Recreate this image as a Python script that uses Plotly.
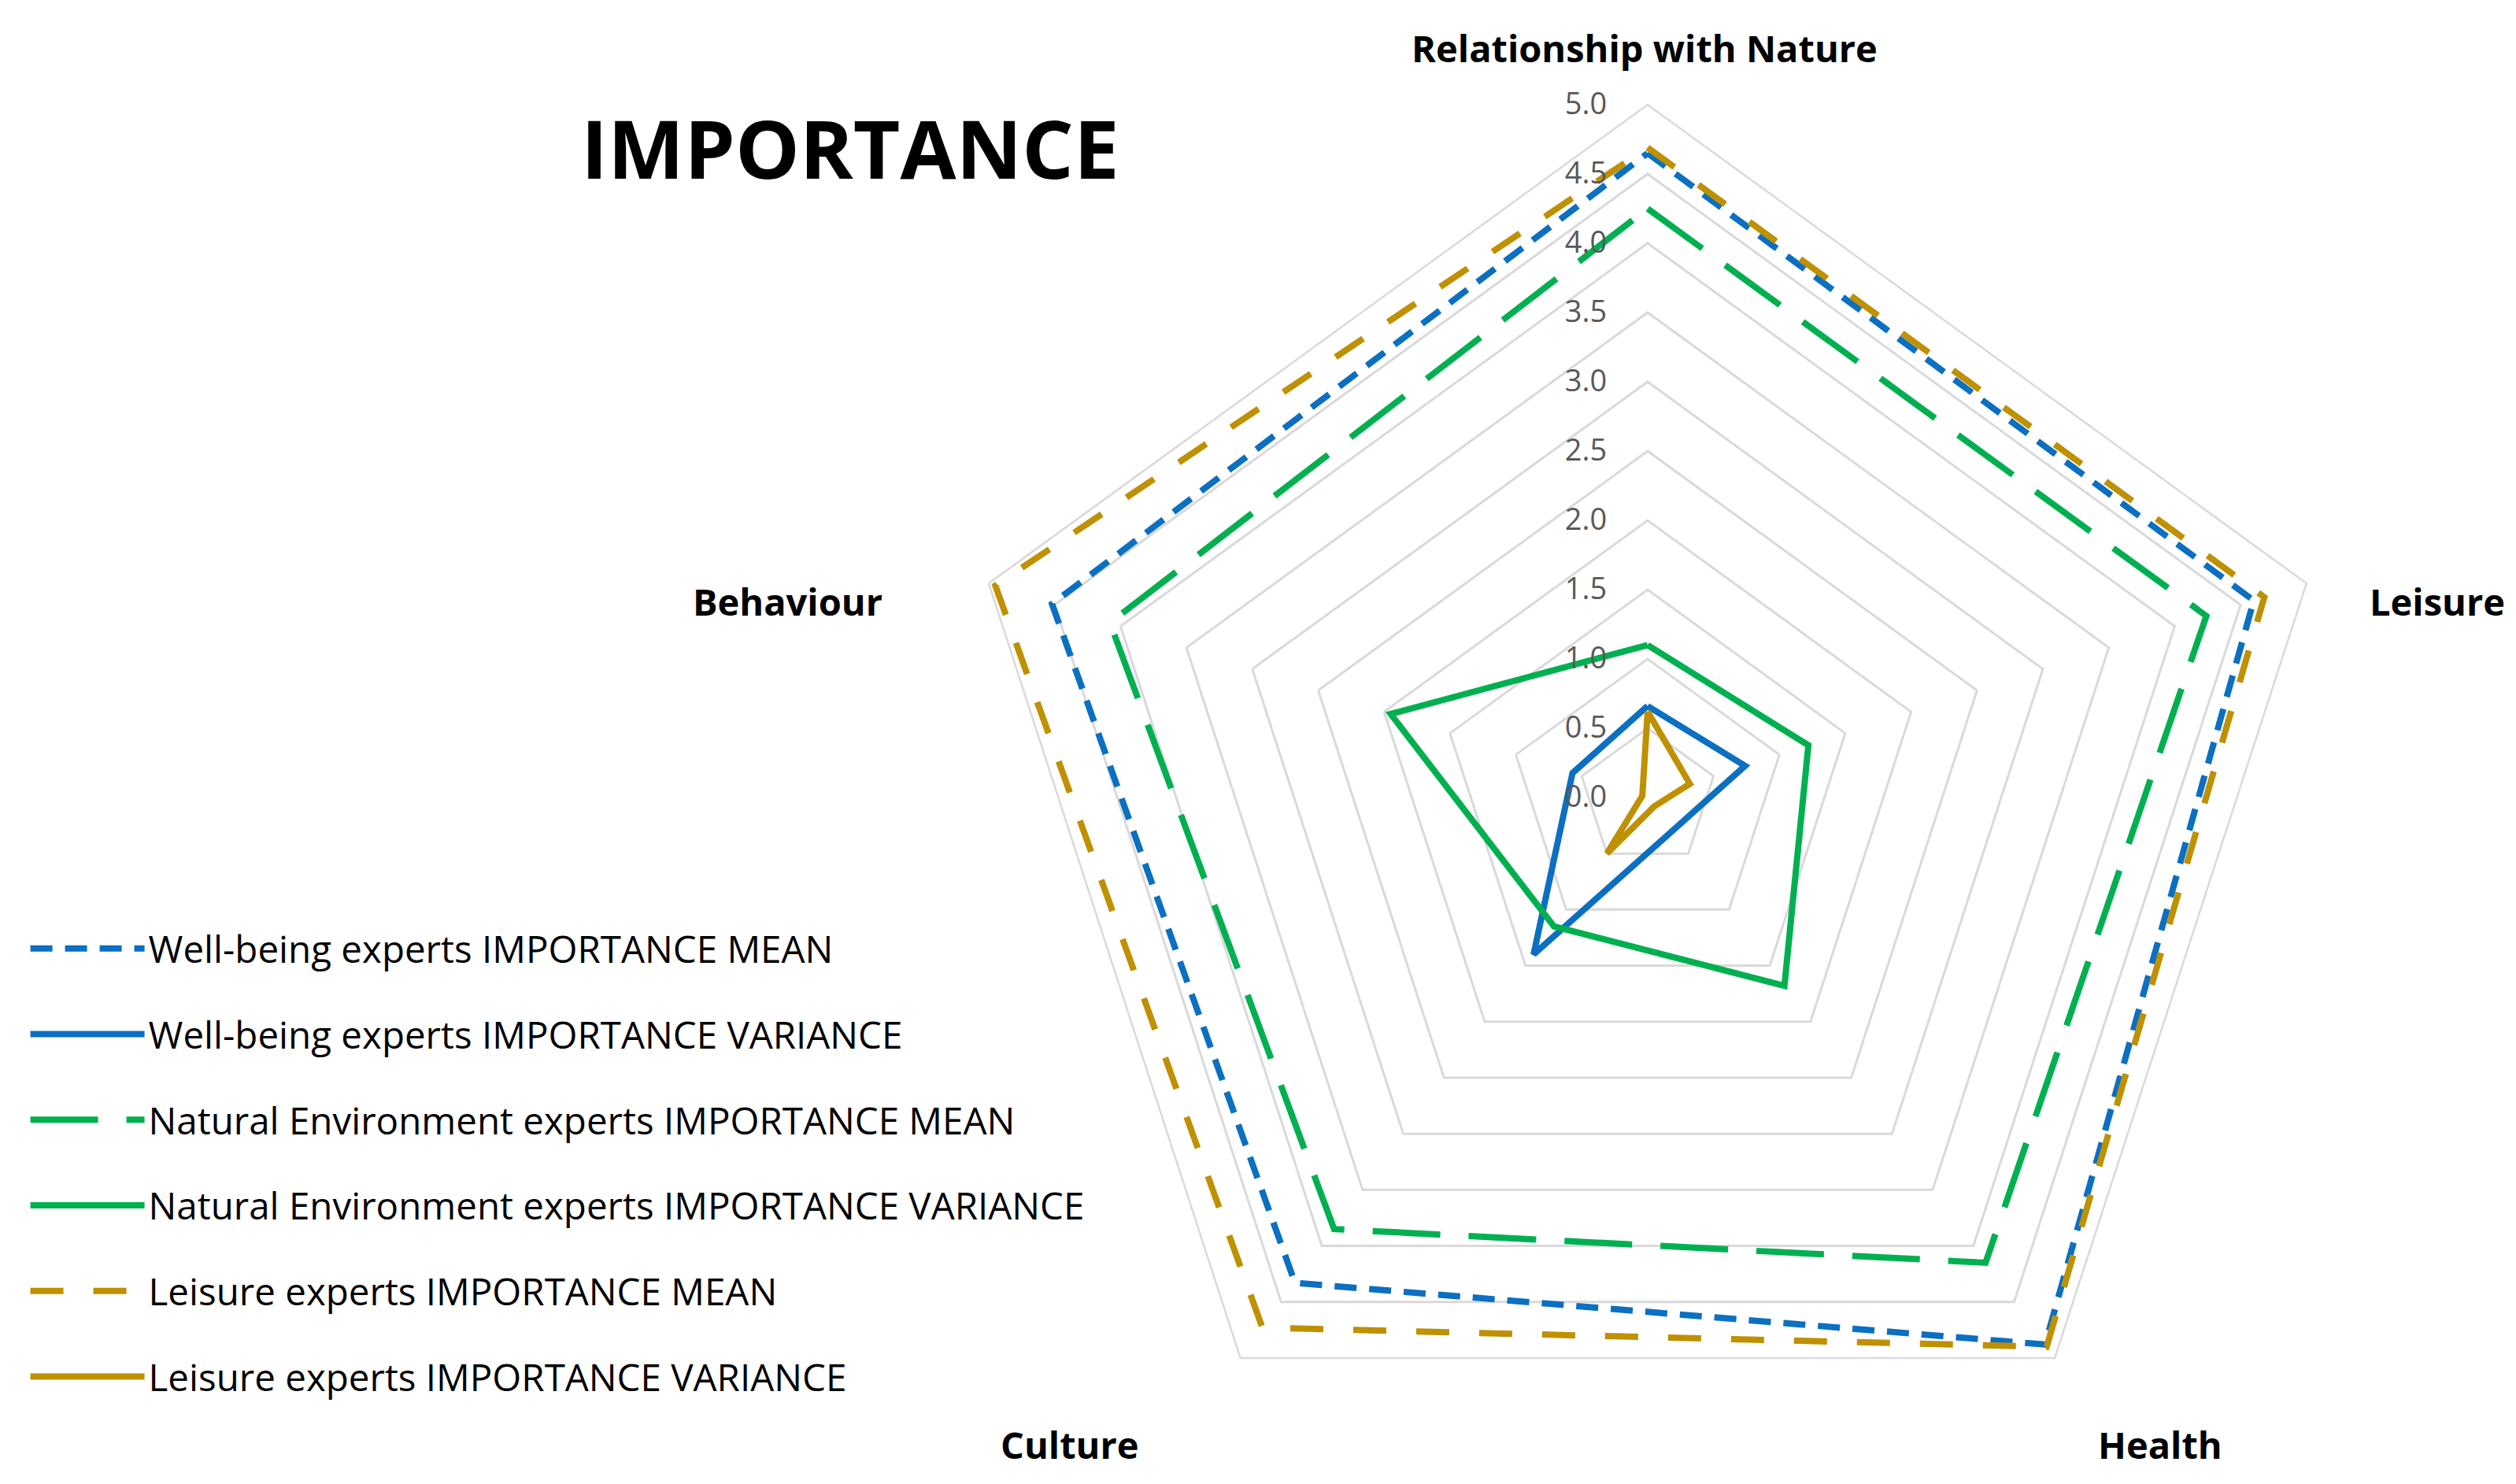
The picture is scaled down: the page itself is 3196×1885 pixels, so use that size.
import plotly.graph_objects as go

categories = ['Relationship with Nature', 'Leisure', 'Health', 'Culture', 'Behaviour']

wellbeing_mean = [4.65, 4.60, 4.88, 4.33, 4.52]
wellbeing_var = [0.66, 0.74, 0.30, 1.40, 0.57]
natural_mean = [4.25, 4.24, 4.15, 3.85, 4.08]
natural_var = [1.10, 1.22, 1.68, 1.15, 1.95]
leisure_mean = [4.69, 4.68, 4.90, 4.73, 4.95]
leisure_var = [0.62, 0.32, 0.08, 0.50, 0.04]

radial_ticks = [0, 0.5, 1, 1.5, 2, 2.5, 3, 3.5, 4, 4.5, 5]

BLUE = '#0B6FC2'
GREEN = '#00B050'
GOLD = '#BF9000'
FONT = 'Open Sans, Noto Sans, sans-serif'

series = [
    ('Well-being experts IMPORTANCE MEAN', wellbeing_mean, BLUE, '28px,16px'),
    ('Well-being experts IMPORTANCE VARIANCE', wellbeing_var, BLUE, 'solid'),
    ('Natural Environment experts IMPORTANCE MEAN', natural_mean, GREEN, '86px,36px'),
    ('Natural Environment experts IMPORTANCE VARIANCE', natural_var, GREEN, 'solid'),
    ('Leisure experts IMPORTANCE MEAN', leisure_mean, GOLD, '42px,38px'),
    ('Leisure experts IMPORTANCE VARIANCE', leisure_var, GOLD, 'solid'),
]

fig = go.Figure()

for i, (name, vals, color, dash) in enumerate(series):
    fig.add_trace(go.Scatterpolar(
        name=name,
        r=vals + vals[:1],
        theta=categories + categories[:1],
        mode='lines',
        line=dict(color=color, width=8, dash=dash),
        legendgroup='g%d' % i,
    ))

# category labels placed where the original chart has them
label_pos = [
    (categories[0], 0.6511, 0.9720, 'center'),
    (categories[1], 0.9937, 0.5990, 'right'),
    (categories[2], 0.8561, 0.0310, 'center'),
    (categories[3], 0.4227, 0.0310, 'center'),
    (categories[4], 0.3489, 0.5990, 'right'),
]
annotations = [dict(
    text='<b>IMPORTANCE</b>',
    x=0.3355, y=0.905,
    xref='paper', yref='paper',
    xanchor='center', yanchor='middle',
    showarrow=False,
    font=dict(size=103, color='#000000'),
)]
for text, x, y, anchor in label_pos:
    annotations.append(dict(
        text='<b>%s</b>' % text,
        x=x, y=y, xref='paper', yref='paper',
        xanchor=anchor, yanchor='middle',
        showarrow=False,
        font=dict(size=47, color='#000000'),
    ))

fig.update_layout(
    width=3196,
    height=1885,
    margin=dict(l=0, r=0, t=0, b=0),
    paper_bgcolor='white',
    plot_bgcolor='white',
    font=dict(family=FONT, color='#000000'),
    polar=dict(
        domain=dict(x=[0.3770, 0.9277], y=[0.0, 0.9337]),
        bgcolor='white',
        gridshape='linear',
        angularaxis=dict(
            direction='clockwise',
            rotation=90,
            showgrid=False,
            showline=True,
            linecolor='#D9D9D9',
            linewidth=2.5,
            ticks='',
            showticklabels=False,
        ),
        radialaxis=dict(
            range=[0, 5],
            tickvals=radial_ticks,
            tickformat='.1f',
            angle=90,
            side='counterclockwise',
            tickangle=90,
            showline=False,
            ticks='outside',
            ticklen=38,
            tickcolor='rgba(0,0,0,0)',
            gridcolor='#D9D9D9',
            gridwidth=2.5,
            tickfont=dict(size=38, color='#595959'),
        ),
    ),
    legend=dict(
        x=0.008,
        y=0.385,
        xanchor='left',
        yanchor='top',
        itemwidth=145,
        tracegroupgap=44,
        font=dict(size=47.5, color='#000000'),
        bgcolor='rgba(0,0,0,0)',
    ),
    annotations=annotations,
)

fig.write_html('out.html')
